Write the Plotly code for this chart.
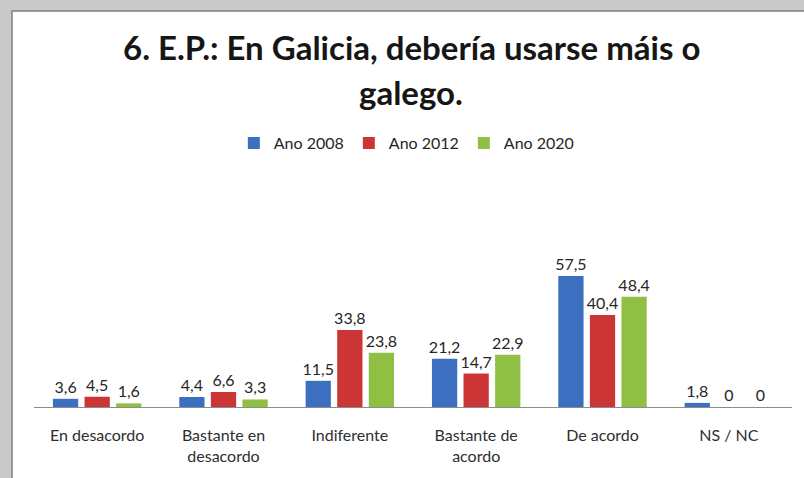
import plotly.graph_objects as go

categories = ["En desacordo", "Bastante en<br>desacordo", "Indiferente",
              "Bastante de<br>acordo", "De acordo", "NS / NC"]
ano_2008 = [3.6, 4.4, 11.5, 21.2, 57.5, 1.8]
ano_2012 = [4.5, 6.6, 33.8, 14.7, 40.4, 0]
ano_2020 = [1.6, 3.3, 23.8, 22.9, 48.4, 0]

series = [
    ("Ano 2008", ano_2008, "#3d6fc0"),
    ("Ano 2012", ano_2012, "#cc3535"),
    ("Ano 2020", ano_2020, "#8fc044"),
]

FONT = "Lato, Carlito, 'Liberation Sans', sans-serif"
W, H = 804, 478
L, R, T, B = 34, 12, 259, 71
PW, PH = W - L - R, H - T - B


def label(v):
    return f"{v:g}".replace(".", ",")


def px_x(x):
    return (x - L) / PW


def px_y(y):
    return (H - B - y) / PH


fig = go.Figure()
for name, vals, color in series:
    fig.add_trace(go.Bar(
        name=name,
        x=categories,
        y=vals,
        marker=dict(color=color, line=dict(width=0)),
        text=[label(v) for v in vals],
        textposition="outside",
        constraintext="none",
        cliponaxis=False,
        textfont=dict(size=16, color="#262626", family=FONT),
    ))

fig.update_layout(
    width=W,
    height=H,
    margin=dict(l=L, r=R, t=T, b=B, autoexpand=False),
    paper_bgcolor="#c9c9c9",
    plot_bgcolor="white",
    font=dict(family=FONT, color="#262626"),
    barmode="group",
    bargap=0.25,
    bargroupgap=0.2,
    showlegend=True,
    legend=dict(
        orientation="h", x=0.506, xanchor="center", xref="container",
        y=1 - 143 / H, yref="container", yanchor="middle",
        bgcolor="rgba(0,0,0,0)",
        font=dict(size=16, color="#262626"),
        itemwidth=30, tracegroupgap=0,
    ),
    xaxis=dict(
        showline=True, linecolor="#8c8c8c", linewidth=1,
        ticks="", showgrid=False, ticklabelstandoff=14,
        tickfont=dict(size=16, color="#2e2e2e"),
    ),
    yaxis=dict(range=[0, 65], visible=False, showgrid=False),
    shapes=[
        dict(type="rect", xref="paper", yref="paper",
             x0=px_x(12), x1=px_x(W + 20), y0=px_y(H + 20), y1=px_y(11),
             fillcolor="white", line=dict(color="#7f7f7f", width=1.5),
             layer="below"),
    ],
    annotations=[
        dict(text="<b>6. E.P.: En Galicia, debería usarse máis o</b>",
             xref="paper", yref="paper", x=px_x(411), y=px_y(47),
             xanchor="center", yanchor="middle", showarrow=False,
             font=dict(size=33, color="#161616")),
        dict(text="<b>galego.</b>",
             xref="paper", yref="paper", x=px_x(411), y=px_y(92),
             xanchor="center", yanchor="middle", showarrow=False,
             font=dict(size=33, color="#161616")),
    ],
)

fig.write_html("out.html", config={"displayModeBar": False},
               post_script="document.body.style.margin='0';")
